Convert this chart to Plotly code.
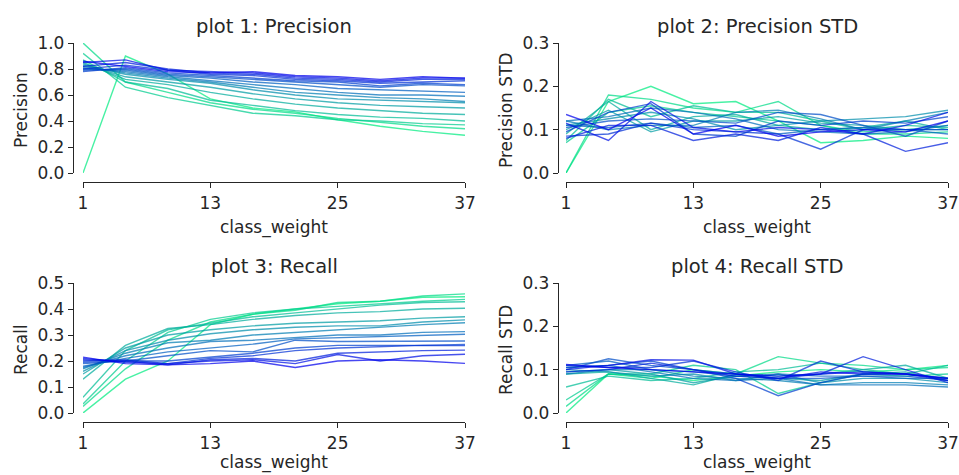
import plotly.graph_objects as go

class_weight = [1, 5, 9, 13, 17, 21, 25, 29, 33, 37]
x_ticks = [1, 13, 25, 37]

# 16 runs, index 0 = greenest, 15 = bluest
precision = [
    [0.00, 0.90, 0.76, 0.57, 0.50, 0.47, 0.41, 0.36, 0.32, 0.29],
    [1.00, 0.70, 0.62, 0.54, 0.49, 0.46, 0.42, 0.39, 0.36, 0.34],
    [0.92, 0.66, 0.58, 0.52, 0.46, 0.44, 0.41, 0.40, 0.38, 0.37],
    [0.87, 0.70, 0.65, 0.56, 0.52, 0.48, 0.45, 0.43, 0.42, 0.40],
    [0.85, 0.72, 0.68, 0.62, 0.57, 0.53, 0.50, 0.48, 0.46, 0.45],
    [0.84, 0.74, 0.70, 0.66, 0.61, 0.57, 0.54, 0.52, 0.51, 0.50],
    [0.83, 0.76, 0.72, 0.69, 0.64, 0.60, 0.57, 0.56, 0.55, 0.54],
    [0.82, 0.77, 0.73, 0.70, 0.66, 0.62, 0.60, 0.58, 0.57, 0.55],
    [0.81, 0.78, 0.74, 0.71, 0.68, 0.65, 0.62, 0.60, 0.60, 0.59],
    [0.80, 0.79, 0.75, 0.73, 0.70, 0.68, 0.65, 0.64, 0.63, 0.62],
    [0.79, 0.80, 0.76, 0.74, 0.72, 0.70, 0.68, 0.66, 0.68, 0.67],
    [0.78, 0.81, 0.77, 0.75, 0.73, 0.71, 0.70, 0.67, 0.69, 0.68],
    [0.80, 0.83, 0.79, 0.76, 0.75, 0.72, 0.71, 0.69, 0.70, 0.71],
    [0.82, 0.85, 0.80, 0.77, 0.76, 0.73, 0.72, 0.70, 0.72, 0.72],
    [0.85, 0.87, 0.79, 0.78, 0.77, 0.74, 0.73, 0.71, 0.73, 0.73],
    [0.86, 0.82, 0.78, 0.77, 0.78, 0.75, 0.74, 0.72, 0.74, 0.73],
]

precision_std = [
    [0.000, 0.165, 0.200, 0.160, 0.165, 0.120, 0.070, 0.075, 0.085, 0.080],
    [0.000, 0.180, 0.170, 0.150, 0.140, 0.165, 0.110, 0.090, 0.090, 0.095],
    [0.070, 0.140, 0.155, 0.140, 0.130, 0.120, 0.110, 0.095, 0.100, 0.100],
    [0.075, 0.170, 0.130, 0.155, 0.140, 0.140, 0.120, 0.100, 0.110, 0.105],
    [0.090, 0.165, 0.100, 0.130, 0.135, 0.110, 0.100, 0.105, 0.120, 0.100],
    [0.100, 0.145, 0.095, 0.120, 0.120, 0.130, 0.115, 0.110, 0.100, 0.110],
    [0.110, 0.125, 0.140, 0.125, 0.100, 0.110, 0.120, 0.125, 0.130, 0.145],
    [0.120, 0.100, 0.110, 0.110, 0.140, 0.145, 0.125, 0.100, 0.120, 0.140],
    [0.120, 0.130, 0.150, 0.140, 0.125, 0.100, 0.095, 0.090, 0.095, 0.110],
    [0.110, 0.105, 0.115, 0.105, 0.110, 0.090, 0.100, 0.105, 0.100, 0.090],
    [0.105, 0.120, 0.125, 0.120, 0.115, 0.140, 0.135, 0.110, 0.085, 0.120],
    [0.095, 0.140, 0.160, 0.090, 0.085, 0.120, 0.110, 0.120, 0.115, 0.130],
    [0.085, 0.090, 0.115, 0.100, 0.095, 0.090, 0.055, 0.100, 0.100, 0.100],
    [0.080, 0.110, 0.110, 0.075, 0.090, 0.075, 0.105, 0.090, 0.050, 0.070],
    [0.115, 0.075, 0.165, 0.105, 0.095, 0.105, 0.100, 0.090, 0.110, 0.140],
    [0.135, 0.100, 0.150, 0.090, 0.110, 0.085, 0.095, 0.100, 0.095, 0.120],
]

recall = [
    [0.000, 0.130, 0.200, 0.340, 0.380, 0.400, 0.420, 0.430, 0.445, 0.447],
    [0.025, 0.170, 0.280, 0.350, 0.380, 0.395, 0.425, 0.430, 0.450, 0.458],
    [0.035, 0.200, 0.310, 0.360, 0.385, 0.400, 0.410, 0.420, 0.430, 0.437],
    [0.060, 0.240, 0.320, 0.345, 0.370, 0.385, 0.400, 0.415, 0.425, 0.428],
    [0.130, 0.260, 0.325, 0.340, 0.360, 0.375, 0.385, 0.390, 0.400, 0.403],
    [0.150, 0.250, 0.300, 0.320, 0.335, 0.345, 0.350, 0.355, 0.365, 0.370],
    [0.160, 0.240, 0.280, 0.305, 0.320, 0.330, 0.335, 0.335, 0.350, 0.358],
    [0.170, 0.230, 0.270, 0.280, 0.300, 0.310, 0.320, 0.330, 0.340, 0.347],
    [0.175, 0.220, 0.250, 0.275, 0.280, 0.290, 0.300, 0.300, 0.310, 0.313],
    [0.180, 0.210, 0.235, 0.250, 0.265, 0.285, 0.290, 0.295, 0.300, 0.303],
    [0.190, 0.200, 0.220, 0.240, 0.235, 0.280, 0.275, 0.275, 0.275, 0.277],
    [0.195, 0.200, 0.200, 0.215, 0.230, 0.250, 0.260, 0.260, 0.260, 0.264],
    [0.200, 0.205, 0.190, 0.210, 0.220, 0.240, 0.250, 0.255, 0.260, 0.259],
    [0.205, 0.200, 0.185, 0.205, 0.210, 0.200, 0.230, 0.235, 0.240, 0.242],
    [0.210, 0.195, 0.190, 0.200, 0.205, 0.190, 0.225, 0.200, 0.220, 0.226],
    [0.215, 0.190, 0.185, 0.190, 0.200, 0.175, 0.200, 0.205, 0.200, 0.191],
]

recall_std = [
    [0.000, 0.090, 0.085, 0.075, 0.085, 0.095, 0.100, 0.095, 0.100, 0.110],
    [0.015, 0.090, 0.080, 0.100, 0.090, 0.130, 0.115, 0.110, 0.100, 0.105],
    [0.030, 0.090, 0.090, 0.110, 0.100, 0.045, 0.070, 0.090, 0.085, 0.090],
    [0.060, 0.085, 0.075, 0.080, 0.095, 0.100, 0.115, 0.100, 0.090, 0.110],
    [0.090, 0.095, 0.080, 0.065, 0.090, 0.085, 0.090, 0.100, 0.110, 0.080],
    [0.095, 0.100, 0.090, 0.070, 0.085, 0.080, 0.075, 0.090, 0.095, 0.075],
    [0.100, 0.095, 0.085, 0.090, 0.075, 0.090, 0.070, 0.080, 0.080, 0.070],
    [0.090, 0.100, 0.100, 0.085, 0.080, 0.075, 0.065, 0.070, 0.070, 0.065],
    [0.105, 0.110, 0.095, 0.080, 0.075, 0.080, 0.065, 0.065, 0.065, 0.060],
    [0.110, 0.120, 0.100, 0.095, 0.085, 0.090, 0.085, 0.085, 0.080, 0.080],
    [0.100, 0.125, 0.110, 0.100, 0.090, 0.080, 0.080, 0.085, 0.085, 0.075],
    [0.105, 0.110, 0.120, 0.100, 0.080, 0.040, 0.070, 0.090, 0.090, 0.080],
    [0.110, 0.105, 0.105, 0.120, 0.095, 0.075, 0.120, 0.095, 0.090, 0.080],
    [0.095, 0.100, 0.115, 0.100, 0.085, 0.080, 0.090, 0.130, 0.100, 0.070],
    [0.100, 0.110, 0.123, 0.122, 0.090, 0.080, 0.095, 0.090, 0.090, 0.075],
    [0.112, 0.105, 0.100, 0.095, 0.090, 0.085, 0.090, 0.095, 0.090, 0.080],
]

titles = ["plot 1: Precision", "plot 2: Precision STD", "plot 3: Recall", "plot 4: Recall STD"]
ylabels = ["Precision", "Precision STD", "Recall", "Recall STD"]
xlabel = "class_weight"
y_tops = [1.0, 0.3, 0.5, 0.3]
y_steps = [0.2, 0.1, 0.1, 0.1]
series = [precision, precision_std, recall, recall_std]

W, H = 959, 475
FONT = "DejaVu Sans"
INK = "#262626"

# pixel geometry of each panel
col_x = [(83, 465, 73), (566, 948, 558)]      # x(1), x(37), y-spine px
row_y = [(43, 173, 182), (283, 413, 422)]     # top value, zero, x-spine py


def winter_r(i, n, alpha=0.72):
    t = 1 - i / (n - 1)
    r, g, b = 0, int(round(235 * t)), int(round(235 * (1 - 0.45 * t)))
    return f"rgba({r},{g},{b},{alpha})"


fig = go.Figure()
layout = dict(
    width=W, height=H,
    margin=dict(l=0, r=0, t=0, b=0, pad=0, autoexpand=False),
    paper_bgcolor="white", plot_bgcolor="white", showlegend=False,
    font=dict(family=FONT, color=INK),
)
annotations = []

for k in range(4):
    r, c = divmod(k, 2)
    x0p, x1p, yspine = col_x[c]
    ytp, y0p, xspine = row_y[r]
    sfx = "" if k == 0 else str(k + 1)
    data = series[k]
    n = len(data)
    for i, vals in enumerate(data):
        fig.add_trace(go.Scatter(
            x=class_weight, y=vals, mode="lines",
            line=dict(color=winter_r(i, n), width=1.4),
            xaxis="x" + sfx, yaxis="y" + sfx, hoverinfo="skip",
        ))
    top = y_tops[k]
    step = y_steps[k]
    nt = int(round(top / step))
    yt = [round(j * step, 2) for j in range(nt + 1)]
    layout["xaxis" + sfx] = dict(
        domain=[x0p / W, x1p / W], range=[1, 37], anchor="free",
        position=1 - xspine / H, tickvals=x_ticks, ticks="outside",
        ticklen=5, tickwidth=1.3, tickcolor=INK, showline=True,
        linecolor=INK, linewidth=1.3, showgrid=False, zeroline=False,
        automargin=False,
        tickfont=dict(size=17, family=FONT, color=INK),
    )
    layout["yaxis" + sfx] = dict(
        domain=[1 - y0p / H, 1 - ytp / H], range=[0, top], anchor="free",
        position=yspine / W, tickvals=yt, tickformat=".1f", ticks="outside",
        ticklen=5, tickwidth=1.3, tickcolor=INK, showline=True,
        linecolor=INK, linewidth=1.3, showgrid=False, zeroline=False,
        automargin=False,
        tickfont=dict(size=17, family=FONT, color=INK),
    )
    cx = (x0p + x1p) / 2
    # subplot title
    annotations.append(dict(
        text=titles[k], x=cx / W, y=1 - (ytp - 17) / H, xref="paper", yref="paper",
        xanchor="center", yanchor="middle", showarrow=False,
        font=dict(size=19.5, family=FONT, color=INK),
    ))
    # x label (kept fully inside the page)
    xl_center = min(xspine + 45, H - 13)
    annotations.append(dict(
        text=xlabel, x=cx / W, y=1 - xl_center / H, xref="paper", yref="paper",
        xanchor="center", yanchor="middle", showarrow=False,
        font=dict(size=17, family=FONT, color=INK),
    ))
    # y label
    annotations.append(dict(
        text=ylabels[k], x=(yspine - 52) / W, y=1 - ((ytp + y0p) / 2 + 2) / H,
        xref="paper", yref="paper", xanchor="center", yanchor="middle",
        textangle=-90, showarrow=False,
        font=dict(size=17, family=FONT, color=INK),
    ))

layout["annotations"] = annotations
fig.update_layout(**layout)
fig.write_html("out.html")
